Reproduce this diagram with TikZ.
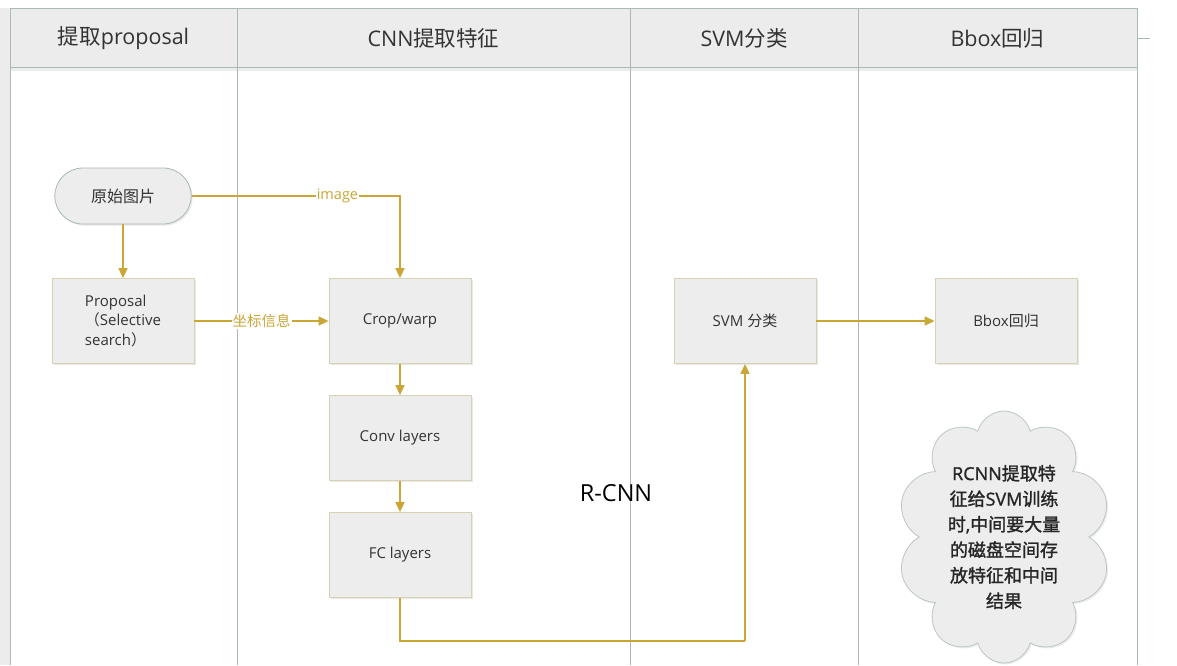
\documentclass[tikz,border=0pt]{standalone}
\usepackage{fontspec}
\setmainfont{Open Sans}
\newfontfamily\zhfont{Noto Sans CJK SC}
\newfontfamily\zhbold[FakeBold=1.5]{Noto Sans CJK SC}
\newfontfamily\latbold[FakeBold=1.2]{Open Sans}
\newcommand\zh[1]{{\zhfont #1}}
\newcommand\zb[1]{{\zhbold #1}}
\usetikzlibrary{shapes.symbols,shapes.misc,shadows,arrows.meta}
\definecolor{gold}{HTML}{C9A636}
\definecolor{lane}{HTML}{A9B9B5}
\definecolor{boxfill}{HTML}{EDEDED}
\definecolor{boxdraw}{HTML}{D8D1B2}
\definecolor{hdrfill}{HTML}{ECECEC}
\definecolor{txt}{HTML}{333333}
\tikzset{
  boxnode/.style={draw=boxdraw, line width=0.8pt, fill=boxfill, minimum width=142pt, minimum height=85pt, inner sep=2pt,
    font=\fontsize{15}{19.5}\selectfont, text=txt, drop shadow={opacity=0.18, shadow xshift=1.5pt, shadow yshift=-1.5pt}},
  termnode/.style={rounded rectangle, draw=lane, line width=0.8pt, fill=boxfill, minimum width=143pt, minimum height=56pt,
    font=\fontsize{16}{18}\selectfont, text=txt, drop shadow={opacity=0.18, shadow xshift=1.5pt, shadow yshift=-1.5pt}},
  conn/.style={draw=gold, line width=1.5pt, -{Triangle[length=10pt,width=9pt]}},
  plainconn/.style={draw=gold, line width=1.5pt},
  lbl/.style={fill=white, inner sep=1pt, text=gold, font=\fontsize{14.5}{16}\selectfont},
  hdr/.style={font=\fontsize{21.5}{24}\selectfont, text=txt},
  lanel/.style={draw=lane, line width=1pt},
}
\begin{document}
\begin{tikzpicture}[x=1pt,y=-1pt]
\useasboundingbox (0,0) rectangle (1177,665);
\fill[white] (0,0) rectangle (1177,665);
% left strip
\fill[hdrfill] (0,8) rectangle (10,665);
% header band
\fill[hdrfill] (10,8) rectangle (1137,67);
\fill[black!7] (10,67) rectangle (1137,71);
\draw[lanel] (10,8) -- (1137,8);
\draw[lanel] (10,67) -- (1137,67);
\foreach \x in {10,237,630,858,1137} { \draw[lanel] (\x,8) -- (\x,665); }
\draw[lane, line width=0.6pt] (1137,38) -- (1150,38);
% headers
\node[hdr] (h1) at (123.5,38) {\zh{提取}proposal};
\node[hdr] (h2) at (433.5,38) {CNN\zh{提取特征}};
\node[hdr] (h3) at (744,38) {SVM\zh{分类}};
\node[hdr] (h4) at (997.5,38) {Bbox\zh{回归}};
% nodes
\node[termnode] (img) at (123,196) {\zh{原始图片}};
\node[boxnode, align=left] (prop) at (123,321) {Proposal\\\zh{（}Selective\\search\zh{）}};
\node[boxnode] (crop) at (400,321) {Crop/warp};
\node[boxnode] (conv) at (400,438) {Conv layers};
\node[boxnode] (fc) at (400,555) {FC layers};
\node[boxnode] (svm) at (745,321) {SVM \zh{分类}};
\node[boxnode] (bbox) at (1006,321) {Bbox\zh{回归}};
\node[cloud, cloud puffs=10, cloud ignores aspect, draw=lane!80, line width=0.8pt, fill=boxfill,
  minimum width=214pt, minimum height=252pt, inner sep=0pt, align=center,
  font=\fontsize{18}{25.5}\selectfont\latbold, text=black!85,
  drop shadow={opacity=0.15, shadow xshift=1.5pt, shadow yshift=-1.5pt}] (cl) at (1004,537)
  {RCNN\zb{提取特}\\\zb{征给}SVM\zb{训练}\\\zb{时}{,}\zb{中间要大量}\\\zb{的磁盘空间存}\\\zb{放特征和中间}\\\zb{结果}};
\node[font=\fontsize{23.5}{28}\selectfont, text=black] (title) at (616,493) {R-CNN};
% connectors
\draw[conn] (img.east) -| node[lbl, pos=0.35] {image} (crop.north);
\draw[conn] (img.south) -- (prop.north);
\draw[conn] (prop.east) -- node[lbl] {\zh{坐标信息}} (crop.west);
\draw[conn] (crop.south) -- (conv.north);
\draw[conn] (conv.south) -- (fc.north);
\coordinate (low) at (745,641);
\draw[plainconn] (fc.south) |- (low);
\draw[conn] (low) -- (svm.south);
\draw[conn] (svm.east) -- (bbox.west);
\end{tikzpicture}
\end{document}
